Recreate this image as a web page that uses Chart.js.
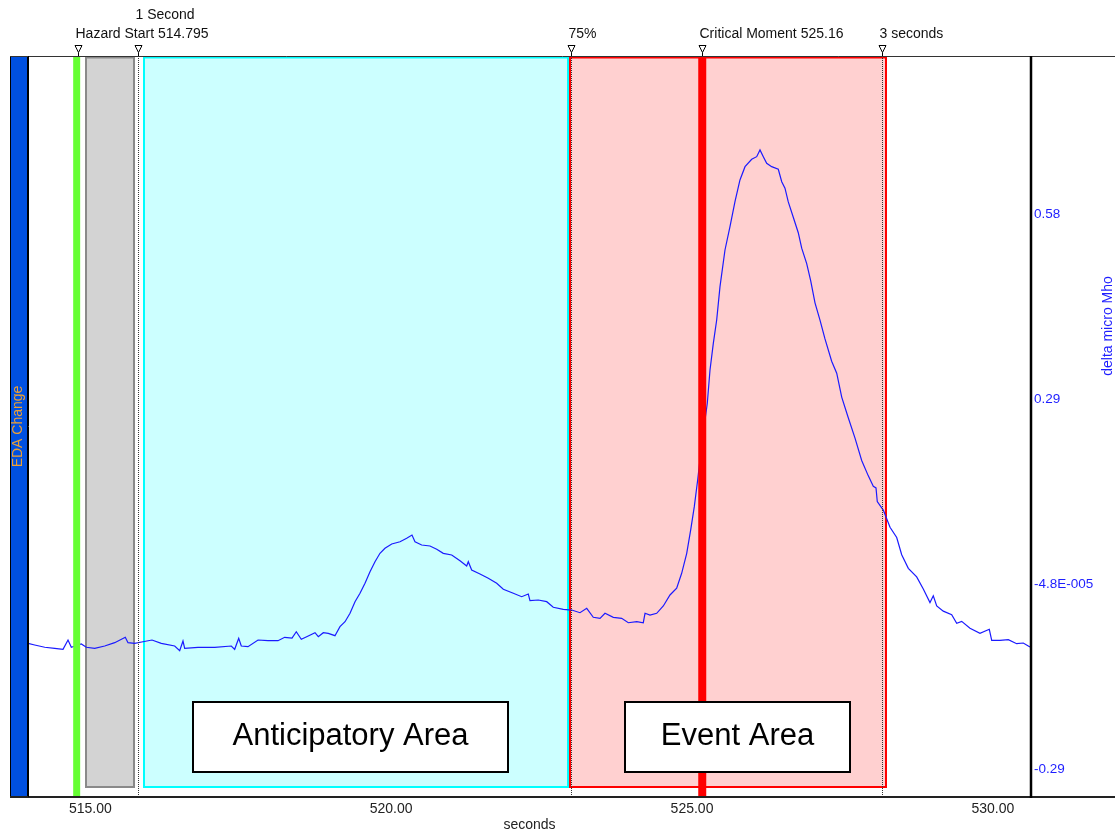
<!DOCTYPE html>
<html><head><meta charset="utf-8">
<script src="https://cdn.jsdelivr.net/npm/chart.js@4.4.1/dist/chart.umd.min.js"></script>
<style>html,body{margin:0;padding:0;background:#fff;overflow:hidden}canvas{display:block}</style>
</head><body>
<canvas id="c" width="1115" height="836"></canvas>
<script>
// ---- data (seconds, delta micro Mho) ----
const timeSeconds = [
513.964,514.075,514.242,514.408,514.546,514.629,514.684,514.850,514.933,515.073,
515.239,515.405,515.581,515.626,515.737,515.875,516.025,516.179,516.402,516.485,
516.540,516.568,516.789,517.067,517.343,517.399,517.466,517.509,517.620,517.787,
517.953,518.119,518.230,518.352,518.423,518.506,518.596,518.734,518.789,518.872,
518.955,519.066,519.149,519.233,519.316,519.399,519.482,519.565,519.648,519.731,
519.814,519.897,520.009,520.147,520.258,520.346,520.396,520.507,520.645,520.757,
520.866,521.006,521.144,521.255,521.282,521.338,521.476,521.614,521.754,521.864,
522.030,522.169,522.279,522.307,522.445,522.585,522.694,522.861,523.000,523.138,
523.250,523.359,523.471,523.554,523.692,523.831,523.941,524.081,524.190,524.219,
524.302,524.413,524.523,524.634,524.745,524.828,524.912,524.978,525.038,525.094,
525.166,525.254,525.299,525.354,525.410,525.465,525.548,525.631,525.714,525.797,
525.881,525.992,526.075,526.130,526.185,526.241,526.324,526.434,526.491,526.545,
526.600,526.683,526.766,526.823,526.906,526.972,527.044,527.127,527.210,527.321,
527.405,527.488,527.597,527.709,527.820,527.930,528.013,528.058,528.079,528.179,
528.291,528.402,528.485,528.595,528.734,528.844,528.955,529.010,529.067,529.176,
529.316,529.399,529.482,529.620,529.786,529.941,529.981,530.119,530.257,530.396,
530.506,530.617];
const edaChange = [
-0.0930,-0.0956,-0.0992,-0.1008,-0.1024,-0.0878,-0.0992,-0.0941,-0.0992,-0.1008,
-0.0972,-0.0920,-0.0836,-0.0920,-0.0930,-0.0905,-0.0878,-0.0930,-0.0972,-0.1046,
-0.0894,-0.1008,-0.0992,-0.0992,-0.0972,-0.1024,-0.0851,-0.0972,-0.0983,-0.0878,
-0.0889,-0.0889,-0.0836,-0.0847,-0.0748,-0.0867,-0.0826,-0.0763,-0.0826,-0.0763,
-0.0773,-0.0810,-0.0669,-0.0591,-0.0459,-0.0277,-0.0146,0.0011,0.0193,0.0350,
0.0481,0.0560,0.0627,0.0663,0.0716,0.0768,0.0663,0.0611,0.0596,0.0544,
0.0481,0.0455,0.0365,0.0282,0.0350,0.0219,0.0157,0.0089,0.0011,-0.0083,
-0.0146,-0.0199,-0.0157,-0.0262,-0.0251,-0.0277,-0.0365,-0.0397,-0.0408,-0.0450,
-0.0381,-0.0522,-0.0538,-0.0459,-0.0522,-0.0538,-0.0607,-0.0591,-0.0607,-0.0459,
-0.0486,-0.0459,-0.0345,-0.0172,-0.0067,0.0168,0.0481,0.0847,0.1212,0.1630,
0.2226,0.2833,0.3355,0.3773,0.4139,0.4661,0.5236,0.5601,0.5993,0.6334,
0.6542,0.6658,0.6699,0.6804,0.6699,0.6595,0.6542,0.6501,0.6307,0.6205,
0.5990,0.5749,0.5507,0.5264,0.5023,0.4755,0.4407,0.4137,0.3842,0.3493,
0.3305,0.2930,0.2607,0.2286,0.1936,0.1695,0.1533,0.1507,0.1292,0.1159,
0.0889,0.0729,0.0459,0.0245,0.0111,-0.0077,-0.0292,-0.0185,-0.0345,-0.0426,
-0.0480,-0.0615,-0.0586,-0.0694,-0.0774,-0.0710,-0.0883,-0.0883,-0.0872,-0.0936,
-0.0925,-0.0989];

const xTickValues = [515, 520, 525, 530];
const xTickLabels = ['515.00', '520.00', '525.00', '530.00'];
const yTickValues = [-0.29, -0.000048, 0.29, 0.58];
const yTickLabels = ['-0.29', '-4.8E-005', '0.29', '0.58'];

const markerTimes  = [514.795, 515.795, 522.99, 525.16, 528.16];
const markerLabels = ['Hazard Start 514.795', '1 Second', '75%', 'Critical Moment 525.16', '3 seconds'];
const markerRows   = [0, 1, 0, 0, 0];
const dottedLineTimes = [515.795, 522.99, 528.16];
const hazardLineTime = 514.773;
const criticalLineTime = 525.17;

const regionStart = [514.928, 515.892, 522.972];
const regionEnd   = [515.726, 522.939, 528.224];
const areaLabels = ['Anticipatory Area', 'Event Area'];
const areaLabelTimes = [519.324, 525.756];

const xMin = 513.964, xMax = 530.634;
const yMin = -0.3339, yMax = 0.8277;

// ---- drawing ----
const FONT = '"Liberation Sans", Arial, sans-serif';
const regionStyles = [
  {fill: '#d3d3d3', stroke: '#8a8a8a'},
  {fill: '#ccffff', stroke: '#00ffff'},
  {fill: '#ffd0d0', stroke: '#ff0000'}
];
const areaBoxWidths = [315, 225];

const overlay = {
  id: 'overlay',
  beforeDraw(chart) {
    const {ctx, chartArea: a} = chart;
    const yl = chart.scales.yL;
    ctx.save();
    ctx.fillStyle = '#ffffff';
    ctx.fillRect(0, 0, chart.width, chart.height);
    ctx.fillStyle = '#0050e0';
    ctx.fillRect(yl.left, a.top, yl.right - yl.left, a.bottom - a.top);
    ctx.strokeStyle = '#000';
    ctx.lineWidth = 1;
    ctx.strokeRect(yl.left + 0.5, a.top + 0.5, yl.right - yl.left - 1, a.bottom - a.top - 1);
    ctx.restore();
  },
  beforeDatasetsDraw(chart) {
    const {ctx, chartArea: a, scales: {x}} = chart;
    ctx.save();
    regionStart.forEach((s, i) => {
      const x0 = x.getPixelForValue(s), x1 = x.getPixelForValue(regionEnd[i]);
      const y0 = a.top + 1.5, y1 = a.bottom - 10;
      ctx.fillStyle = regionStyles[i].fill;
      ctx.fillRect(x0, y0, x1 - x0, y1 - y0);
      ctx.strokeStyle = regionStyles[i].stroke;
      ctx.lineWidth = 2;
      ctx.strokeRect(x0, y0, x1 - x0, y1 - y0);
    });
    ctx.restore();
  },
  afterDatasetsDraw(chart) {
    const {ctx, chartArea: a, scales: {x}} = chart;
    ctx.save();
    // dotted marker lines
    ctx.strokeStyle = '#333';
    ctx.lineWidth = 1;
    ctx.setLineDash([1, 1]);
    dottedLineTimes.forEach(t => {
      const px = Math.round(x.getPixelForValue(t)) + 0.5;
      ctx.beginPath(); ctx.moveTo(px, a.top); ctx.lineTo(px, a.bottom); ctx.stroke();
    });
    ctx.setLineDash([]);
    // hazard (green) and critical (red) lines
    let px = x.getPixelForValue(hazardLineTime);
    ctx.strokeStyle = '#66ff33'; ctx.lineWidth = 7;
    ctx.beginPath(); ctx.moveTo(px, a.top); ctx.lineTo(px, a.bottom); ctx.stroke();
    px = x.getPixelForValue(criticalLineTime);
    ctx.strokeStyle = '#ff0000'; ctx.lineWidth = 8;
    ctx.beginPath(); ctx.moveTo(px, a.top); ctx.lineTo(px, a.bottom); ctx.stroke();
    // area label boxes
    areaLabels.forEach((lab, i) => {
      const cx = x.getPixelForValue(areaLabelTimes[i]);
      const w = areaBoxWidths[i], h = 70;
      const bottom = a.bottom - 25, top = bottom - h;
      ctx.fillStyle = '#fff';
      ctx.fillRect(cx - w / 2, top, w, h);
      ctx.strokeStyle = '#000'; ctx.lineWidth = 2;
      ctx.strokeRect(cx - w / 2, top, w, h);
      ctx.fillStyle = '#000';
      ctx.font = '31px ' + FONT;
      ctx.textAlign = 'center'; ctx.textBaseline = 'middle';
      ctx.fillText(lab, cx, top + h / 2 - 1);
    });
    // frame lines
    ctx.strokeStyle = '#333'; ctx.lineWidth = 1;
    ctx.beginPath(); ctx.moveTo(10, a.top + 0.5); ctx.lineTo(chart.width, a.top + 0.5); ctx.stroke();
    ctx.strokeStyle = '#222'; ctx.lineWidth = 2;
    ctx.beginPath(); ctx.moveTo(10, a.bottom); ctx.lineTo(chart.width, a.bottom); ctx.stroke();
    ctx.strokeStyle = '#000'; ctx.lineWidth = 2.5;
    ctx.beginPath(); ctx.moveTo(a.right, a.top); ctx.lineTo(a.right, a.bottom + 1); ctx.stroke();
    ctx.lineWidth = 1;
    ctx.beginPath(); ctx.moveTo(a.left + 0.5, a.top); ctx.lineTo(a.left + 0.5, a.bottom); ctx.stroke();
    // markers
    ctx.font = '14px ' + FONT;
    ctx.textAlign = 'left'; ctx.textBaseline = 'middle';
    markerTimes.forEach((t, i) => {
      const mx = Math.round(x.getPixelForValue(t)) + 0.5;
      ctx.fillStyle = '#fff'; ctx.strokeStyle = '#000'; ctx.lineWidth = 1;
      ctx.beginPath();
      ctx.moveTo(mx - 3.5, 45.5); ctx.lineTo(mx + 3.5, 45.5); ctx.lineTo(mx, 52.5); ctx.closePath();
      ctx.fill(); ctx.stroke();
      ctx.beginPath(); ctx.moveTo(mx, 52.5); ctx.lineTo(mx, a.top); ctx.stroke();
      ctx.fillStyle = '#111';
      ctx.fillText(markerLabels[i], mx - 3, markerRows[i] === 0 ? 34 : 15);
    });
    // right axis title
    const yr = chart.scales.y;
    ctx.save();
    ctx.translate(yr.right - 7, 326);
    ctx.rotate(-Math.PI / 2);
    ctx.fillStyle = '#1e1eff';
    ctx.font = '14px ' + FONT;
    ctx.textAlign = 'center'; ctx.textBaseline = 'middle';
    ctx.fillText('delta micro Mho', 0, 0);
    ctx.restore();
    ctx.restore();
  }
};

new Chart(document.getElementById('c'), {
  type: 'line',
  data: {
    datasets: [{
      label: 'EDA Change',
      data: timeSeconds.map((t, i) => ({x: t, y: edaChange[i]})),
      borderColor: '#1a1aff',
      borderWidth: 1.2,
      pointRadius: 0,
      tension: 0,
      xAxisID: 'x',
      yAxisID: 'y'
    }]
  },
  options: {
    responsive: false,
    animation: false,
    devicePixelRatio: 1,
    layout: {padding: {top: 56, left: 10, right: 0, bottom: 0}},
    plugins: {legend: {display: false}, tooltip: {enabled: false}, title: {display: false}},
    scales: {
      x: {
        type: 'linear', min: xMin, max: xMax,
        grid: {display: false, drawTicks: false},
        border: {display: false},
        afterBuildTicks: s => { s.ticks = xTickValues.map(v => ({value: v})); },
        ticks: {
          callback: (v, i) => xTickLabels[i],
          color: '#222', font: {family: FONT, size: 14}, padding: 4,
          maxRotation: 0, autoSkip: false
        },
        title: {display: true, text: 'seconds', color: '#222',
                font: {family: FONT, size: 14}, padding: {top: 0, bottom: 2}},
        afterFit: s => { s.height = 39; }
      },
      y: {
        type: 'linear', position: 'right', min: yMin, max: yMax,
        grid: {display: false, drawTicks: false},
        border: {display: false},
        afterBuildTicks: s => { s.ticks = yTickValues.map(v => ({value: v})); },
        ticks: {
          callback: (v, i) => yTickLabels[i],
          color: '#1e1eff', font: {family: FONT, size: 13.5}, padding: 3
        },
        afterFit: s => { s.width = 84; }
      },
      yL: {
        type: 'linear', position: 'left',
        grid: {display: false, drawTicks: false},
        border: {display: false},
        ticks: {display: false},
        title: {display: true, text: 'EDA Change', color: '#f0a030',
                font: {family: FONT, size: 14}, padding: 0},
        afterFit: s => { s.width = 18; }
      }
    }
  },
  plugins: [overlay]
});
</script>
</body></html>
